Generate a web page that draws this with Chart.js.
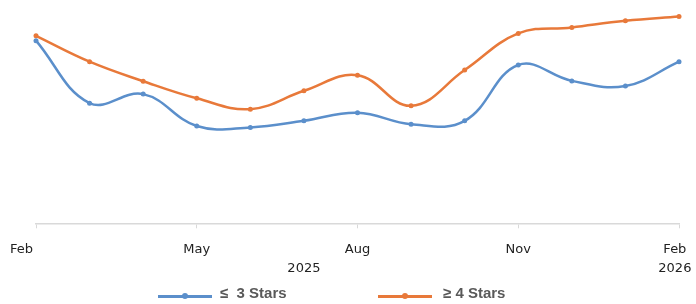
<!DOCTYPE html>
<html>
<head>
<meta charset="utf-8">
<script src="https://cdn.jsdelivr.net/npm/chart.js@4.4.0/dist/chart.umd.min.js"></script>
<style>
  html, body { margin: 0; padding: 0; background: #ffffff; }
  #wrap { position: relative; width: 696px; height: 304px; overflow: hidden; }
  #legend { position: absolute; left: 0; top: 283px; width: 696px; height: 20px;
            font-family: "Liberation Sans", Arial, sans-serif; font-weight: bold; font-size: 15px; color: #595959; }
  .swatch { position: absolute; top: 12px; width: 54px; height: 3px; }
  .dot { position: absolute; top: -2px; left: 24px; width: 6px; height: 6px; border-radius: 50%; }
  .txt { position: absolute; top: 0; line-height: 20px; white-space: pre; }
</style>
</head>
<body>
<div id="wrap">
  <canvas id="c" width="696" height="304"></canvas>
  <div id="legend"></div>
</div>
<script>
const categories = ['Feb 2025','Mar 2025','Apr 2025','May 2025','Jun 2025','Jul 2025','Aug 2025',
                    'Sep 2025','Oct 2025','Nov 2025','Dec 2025','Jan 2026','Feb 2026'];
const seriesNames = ['\u2264  3 Stars', '\u2265 4 Stars'];
const lowStars  = [60.8, 40.0, 43.0, 32.4, 31.9, 34.1, 36.8, 33.0, 34.1, 52.7, 47.4, 45.7, 53.8];
const highStars = [62.4, 53.8, 47.3, 41.6, 38.0, 44.1, 49.3, 39.1, 51.0, 63.2, 65.2, 67.4, 68.8];
const NB = '\u00A0';
const tickLabels = [['Feb' + NB.repeat(7)], '', '', ['May'], '', ['', '2025'], ['Aug'], '', '', ['Nov'],
                    '', '', ['Feb' + NB + NB, '2026' + NB + NB]];
const majorTicks = [0, 3, 6, 9, 12];
const colors = ['#5B8FCB', '#E8793A'];

const ctx = document.getElementById('c');
new Chart(ctx, {
  type: 'line',
  data: {
    labels: categories,
    datasets: [
      { label: seriesNames[0], data: lowStars, borderColor: colors[0], backgroundColor: colors[0],
        borderWidth: 2.5, pointRadius: 2.5, pointBorderWidth: 0, tension: 0.4 },
      { label: seriesNames[1], data: highStars, borderColor: colors[1], backgroundColor: colors[1],
        borderWidth: 2.5, pointRadius: 2.5, pointBorderWidth: 0, tension: 0.4 }
    ]
  },
  options: {
    responsive: false,
    animation: false,
    layout: { padding: { left: 36, right: 17, top: 13, bottom: 14 } },
    plugins: { legend: { display: false }, tooltip: { enabled: false } },
    scales: {
      y: { display: false, min: 0, max: 70 },
      x: {
        offset: false,
        afterFit: s => { s.paddingLeft = 0; s.paddingRight = 0; },
        border: { display: true, color: '#D9D9D9', width: 1.5 },
        grid: { display: true, drawOnChartArea: false, tickLength: 5,
                color: c => majorTicks.includes(c.index) ? '#D9D9D9' : 'rgba(0,0,0,0)' },
        ticks: {
          autoSkip: false, maxRotation: 0, minRotation: 0, padding: 12,
          color: '#222222',
          font: { family: '"DejaVu Sans", sans-serif', size: 13, lineHeight: 1.45 },
          callback: (v, i) => tickLabels[i]
        }
      }
    }
  }
});

const legendPos = [{ sw: 158, tx: 220 }, { sw: 378, tx: 443 }];
const leg = document.getElementById('legend');
seriesNames.forEach((name, i) => {
  const sw = document.createElement('div');
  sw.className = 'swatch'; sw.style.left = legendPos[i].sw + 'px'; sw.style.background = colors[i];
  const dot = document.createElement('div');
  dot.className = 'dot'; dot.style.background = colors[i];
  sw.appendChild(dot);
  const tx = document.createElement('div');
  tx.className = 'txt'; tx.style.left = legendPos[i].tx + 'px'; tx.textContent = name;
  leg.appendChild(sw); leg.appendChild(tx);
});
</script>
</body>
</html>
